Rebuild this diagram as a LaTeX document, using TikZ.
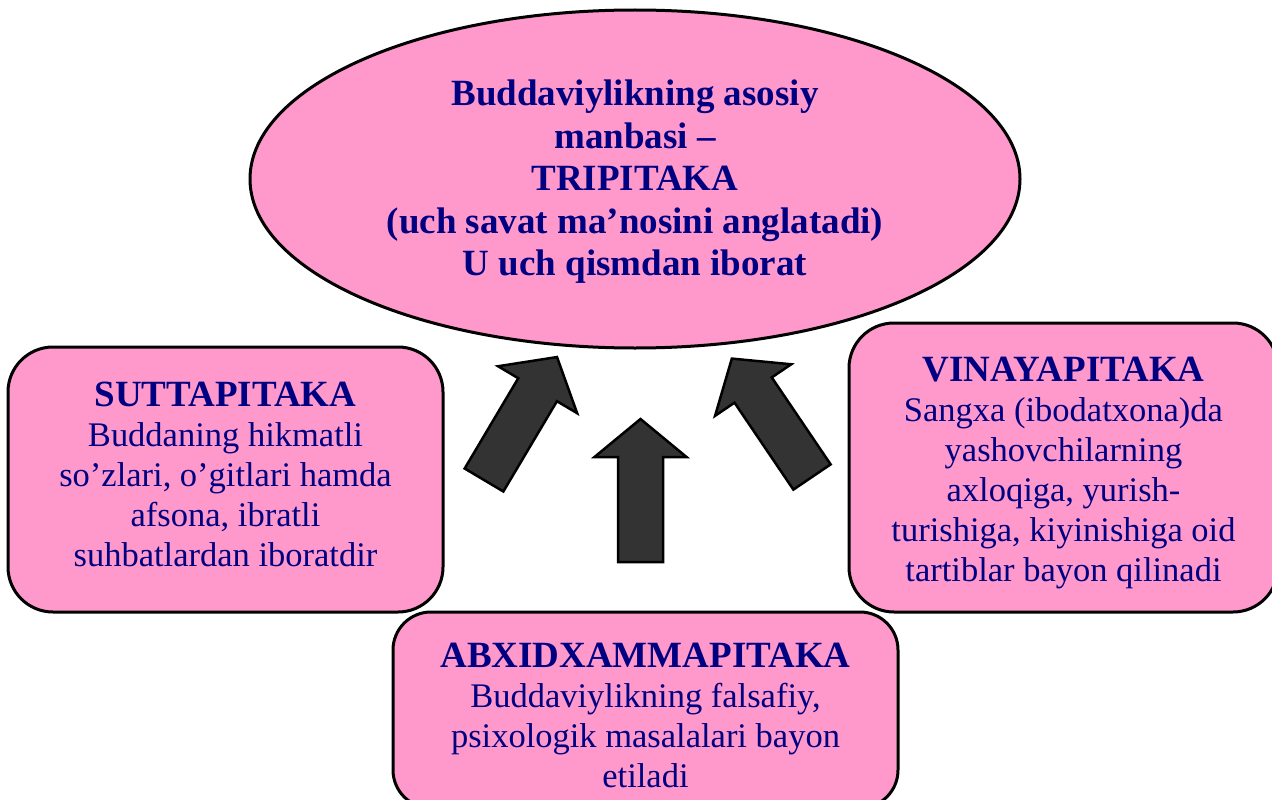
\documentclass[tikz,border=0pt]{standalone}
\usepackage{fontspec}
\setmainfont{Liberation Serif}
\usetikzlibrary{shapes.geometric}
\definecolor{boxpink}{HTML}{FF99CC}
\definecolor{textblue}{HTML}{000080}
\definecolor{arrowgray}{HTML}{333333}

\begin{document}
\begin{tikzpicture}[x=1pt, y=-1pt,
    part/.style={draw, line width=3pt, fill=boxpink, rounded corners=45pt},
    parttext/.style={text=textblue, align=center, inner sep=0pt, font=\fontsize{34.5}{40}\selectfont},
    blockarr/.pic={
        \draw[line width=2.5pt, fill=arrowgray] (0,-22.5) -- (105,-22.5) -- (105,-46) -- (143,0)
            -- (105,46) -- (105,22.5) -- (0,22.5) -- cycle;
    }]
    \useasboundingbox (0,0) rectangle (1272,800);

    \node[ellipse, draw, line width=3pt, fill=boxpink, minimum width=770, minimum height=338]
        (tripitaka) at (635,179) {};
    \node[parttext, font=\bfseries\fontsize{37}{42.5}\selectfont] (tripitakatext)
        at ([yshift=-3pt]tripitaka.center) {Buddaviylikning asosiy\\ manbasi –\\ TRIPITAKA\\
        (uch savat ma’nosini anglatadi)\\ U uch qismdan iborat};

    \node[part, minimum width=435, minimum height=265] (sutta) at (225.5,479.5) {};
    \node[parttext] (suttatext) at ([yshift=5pt]sutta.center)
        {{\bfseries\fontsize{37}{40}\selectfont SUTTAPITAKA}\\ Buddaning hikmatli\\
        so’zlari, o’gitlari hamda\\ afsona, ibratli\\ suhbatlardan iboratdir};

    \node[part, minimum width=429, minimum height=289] (vinaya) at (1063.5,467.5) {};
    \node[parttext] (vinayatext) at ([yshift=-6pt]vinaya.center)
        {{\bfseries\fontsize{37}{40}\selectfont VINAYAPITAKA}\\ Sangxa (ibodatxona)da\\
        yashovchilarning\\ axloqiga, yurish-\\ turishiga, kiyinishiga oid\\ tartiblar bayon qilinadi};

    \node[part, rounded corners=38pt, minimum width=505, minimum height=196] (abxid) at (645.5,710) {};
    \node[parttext] (abxidtext) at ([yshift=-5pt]abxid.center)
        {{\bfseries\fontsize{37}{40}\selectfont ABXIDXAMMAPITAKA}\\ Buddaviylikning falsafiy,\\
        psixologik masalalari bayon\\ etiladi};

    \coordinate (leftarr) at (484,480);
    \coordinate (midarr) at (640.5,562);
    \coordinate (rightarr) at (812,477);
    \pic[rotate=59.3] at (leftarr) {blockarr};
    \pic[rotate=90] at (midarr) {blockarr};
    \pic[rotate=124.1] at (rightarr) {blockarr};
\end{tikzpicture}
\end{document}
